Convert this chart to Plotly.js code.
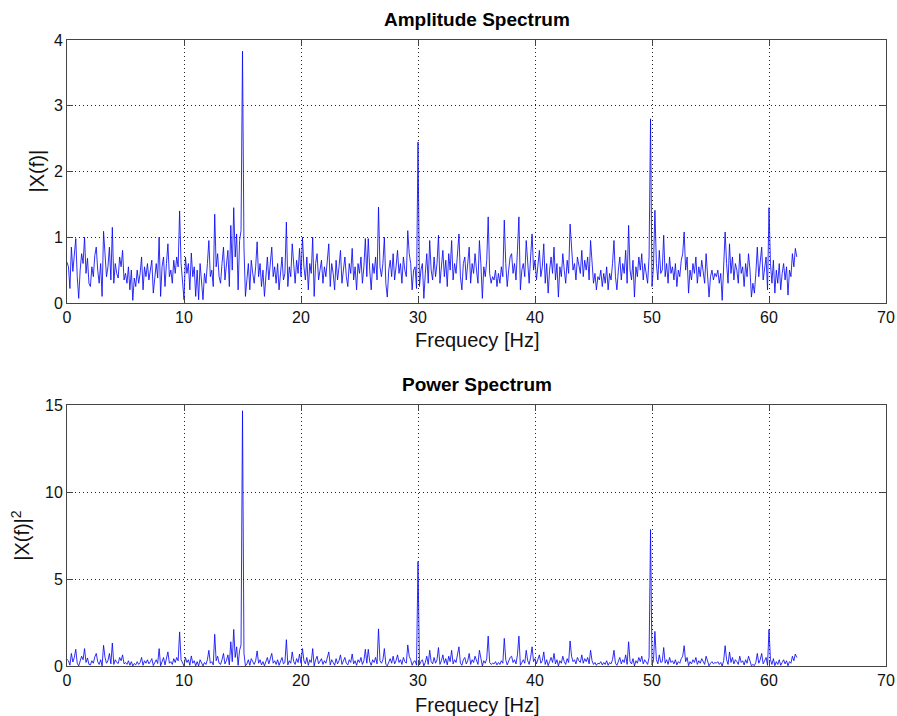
<!DOCTYPE html>
<html>
<head>
<meta charset="utf-8">
<script src="https://cdn.plot.ly/plotly-3.0.1.min.js"></script>
<style>html,body{margin:0;padding:0;background:#fff;}#chart{width:897px;height:716px;}</style>
</head>
<body>
<div id="chart"></div>
<script>
// Frequency resolution of the spectrum (Hz per bin) and number of bins
const binWidth = 0.125;

// |X(f)| values, one per 0.125 Hz bin, 0 .. 62.375 Hz
const amplitude = [
  // 0 Hz
  0.62, 0.55, 0.22, 0.85, 0.48, 0.70, 0.98, 0.40,
  // 1 Hz
  0.07, 0.50, 0.75, 0.60, 1.00, 0.45, 0.68, 0.30,
  // 2 Hz
  0.25, 0.55, 0.40, 0.72, 0.85, 0.50, 0.30, 0.60,
  // 3 Hz
  0.10, 1.09, 0.70, 0.40, 0.55, 0.85, 0.35, 1.15,
  // 4 Hz
  0.30, 0.60, 0.45, 0.38, 0.70, 0.55, 0.80, 0.35,
  // 5 Hz
  0.45, 0.30, 0.55, 0.20, 0.50, 0.04, 0.38, 0.25,
  // 6 Hz
  0.50, 0.30, 0.45, 0.70, 0.20, 0.55, 0.40, 0.60,
  // 7 Hz
  0.35, 0.50, 0.65, 0.15, 0.45, 0.60, 0.38, 1.00,
  // 8 Hz
  0.10, 0.55, 0.70, 0.25, 0.60, 0.90, 0.40, 0.50,
  // 9 Hz
  0.30, 0.65, 0.45, 0.70, 0.55, 1.40, 0.60, 0.35,
  // 10 Hz
  0.05, 0.70, 0.45, 0.60, 0.20, 0.76, 0.40, 0.55,
  // 11 Hz
  0.10, 0.50, 0.05, 0.60, 0.35, 0.05, 0.45, 0.30,
  // 12 Hz
  0.60, 0.95, 0.40, 0.50, 0.25, 1.35, 0.55, 0.75,
  // 13 Hz
  0.40, 0.30, 0.60, 0.85, 0.35, 0.55, 0.80, 0.25,
  // 14 Hz
  1.18, 0.50, 1.45, 0.70, 1.05, 0.20, 0.95, 1.10,
  // 15 Hz
  3.83, 0.85, 0.10, 0.35, 0.60, 0.20, 0.65, 0.45,
  // 16 Hz
  0.30, 0.55, 0.93, 0.40, 0.60, 0.25, 0.50, 0.10,
  // 17 Hz
  0.45, 0.70, 0.35, 0.60, 0.85, 0.40, 0.55, 0.30,
  // 18 Hz
  0.60, 0.20, 0.50, 0.70, 0.35, 0.45, 1.23, 0.25,
  // 19 Hz
  0.55, 0.40, 0.90, 0.50, 0.30, 0.65, 0.45, 0.83,
  // 20 Hz
  0.40, 1.00, 0.55, 0.35, 0.70, 0.20, 0.60, 0.45,
  // 21 Hz
  1.00, 0.10, 0.60, 0.75, 0.35, 0.50, 0.65, 0.30,
  // 22 Hz
  0.55, 0.40, 0.70, 0.90, 0.25, 0.60, 0.45, 0.20,
  // 23 Hz
  0.65, 0.35, 0.55, 0.80, 0.30, 0.50, 0.70, 0.40,
  // 24 Hz
  0.25, 0.60, 0.45, 0.83, 0.35, 0.55, 0.20, 0.60,
  // 25 Hz
  0.45, 0.70, 0.30, 0.55, 0.98, 0.40, 0.98, 0.50,
  // 26 Hz
  0.20, 0.60, 0.45, 0.70, 0.35, 1.46, 0.55, 0.40,
  // 27 Hz
  0.60, 1.00, 0.30, 0.09, 0.50, 0.65, 0.40, 0.75,
  // 28 Hz
  0.35, 0.55, 0.80, 0.45, 0.60, 0.30, 0.70, 0.50,
  // 29 Hz
  0.40, 1.10, 0.75, 0.60, 0.20, 0.50, 0.55, 0.22,
  // 30 Hz
  2.45, 0.25, 0.50, 0.60, 0.07, 0.45, 0.75, 0.30,
  // 31 Hz
  0.95, 0.50, 0.35, 0.70, 0.40, 0.60, 1.03, 0.30,
  // 32 Hz
  0.55, 0.80, 0.40, 0.65, 0.25, 0.75, 0.50, 0.95,
  // 33 Hz
  0.35, 0.60, 0.45, 0.80, 1.05, 0.40, 0.20, 0.60,
  // 34 Hz
  0.70, 0.35, 0.55, 0.85, 0.30, 0.60, 0.45, 0.75,
  // 35 Hz
  0.50, 0.30, 0.95, 0.60, 0.07, 0.55, 0.40, 0.65,
  // 36 Hz
  1.31, 0.45, 0.30, 0.40, 0.35, 0.50, 0.25, 0.45,
  // 37 Hz
  0.30, 0.55, 0.40, 1.26, 0.60, 0.25, 0.50, 0.70,
  // 38 Hz
  0.75, 0.45, 0.60, 0.35, 0.80, 1.31, 0.20, 0.50,
  // 39 Hz
  0.60, 0.40, 0.95, 0.55, 0.30, 0.70, 1.05, 0.50,
  // 40 Hz
  0.65, 0.35, 0.60, 0.80, 0.40, 0.55, 0.90, 0.30,
  // 41 Hz
  0.60, 0.15, 0.50, 0.70, 0.45, 0.85, 0.35, 0.60,
  // 42 Hz
  0.09, 0.55, 0.40, 0.75, 0.50, 0.30, 0.65, 0.45,
  // 43 Hz
  1.20, 0.75, 0.50, 0.60, 0.35, 0.70, 0.55, 0.45,
  // 44 Hz
  0.80, 0.40, 0.65, 0.50, 0.70, 0.35, 0.95, 0.55,
  // 45 Hz
  0.30, 0.45, 0.20, 0.40, 0.35, 0.50, 0.25, 0.45,
  // 46 Hz
  0.30, 0.55, 0.20, 0.45, 0.35, 0.60, 0.95, 0.40,
  // 47 Hz
  0.20, 0.50, 0.70, 0.35, 0.60, 0.45, 0.80, 0.30,
  // 48 Hz
  1.18, 0.50, 0.35, 0.65, 0.09, 0.55, 0.40, 0.70,
  // 49 Hz
  0.50, 0.75, 0.35, 0.60, 0.45, 0.30, 0.70, 2.80,
  // 50 Hz
  0.25, 0.55, 1.41, 0.60, 0.35, 0.80, 0.45, 0.50,
  // 51 Hz
  1.03, 0.40, 0.60, 0.30, 0.70, 0.45, 0.55, 0.35,
  // 52 Hz
  0.60, 0.25, 0.50, 0.40, 0.65, 0.75, 1.08, 0.50,
  // 53 Hz
  0.70, 0.15, 0.50, 0.35, 0.60, 0.45, 0.70, 0.30,
  // 54 Hz
  0.55, 0.40, 0.65, 0.50, 0.30, 0.75, 0.45, 0.09,
  // 55 Hz
  0.40, 0.50, 0.35, 0.45, 0.40, 0.50, 0.30, 0.45,
  // 56 Hz
  0.04, 0.55, 1.08, 0.60, 0.30, 0.90, 0.45, 0.70,
  // 57 Hz
  0.35, 0.60, 0.50, 0.30, 0.75, 0.45, 0.55, 0.25,
  // 58 Hz
  0.60, 0.40, 0.75, 0.50, 0.09, 0.30, 0.15, 0.45,
  // 59 Hz
  0.85, 0.40, 0.60, 0.85, 0.35, 0.55, 0.70, 0.20,
  // 60 Hz
  1.45, 0.60, 0.30, 0.65, 0.15, 0.50, 0.30, 0.60,
  // 61 Hz
  0.20, 0.45, 0.60, 0.35, 0.55, 0.12, 0.50, 0.40,
  // 62 Hz
  0.75, 0.55, 0.83, 0.70
];

// Frequency of each bin
const frequency = amplitude.map((_, i) => i * binWidth);
// Power spectrum is |X(f)|^2 of the amplitude values
const power = amplitude.map(v => v * v);

// Tick labels
const xTicks = [0, 10, 20, 30, 40, 50, 60, 70];
const ampTicks = [0, 1, 2, 3, 4];
const powTicks = [0, 5, 10, 15];

const FONT = 'Liberation Sans, Arial, Helvetica, sans-serif';
const lineStyle = {color: 'rgb(10,10,245)', width: 0.85};

const traces = [
  {x: frequency, y: amplitude, type: 'scatter', mode: 'lines', line: lineStyle, xaxis: 'x', yaxis: 'y', hoverinfo: 'x+y'},
  {x: frequency, y: power, type: 'scatter', mode: 'lines', line: lineStyle, xaxis: 'x2', yaxis: 'y2', hoverinfo: 'x+y'}
];

function xAxis(anchor) {
  return {
    anchor: anchor, domain: [0, 1], range: [0, 70], tickvals: xTicks, ticktext: xTicks.map(String),
    showgrid: true, gridcolor: '#222', griddash: '1px,3px', gridwidth: 1,
    zeroline: false, showline: true, linecolor: '#444', linewidth: 1, mirror: 'ticks',
    ticks: 'inside', ticklen: 6, tickcolor: '#444',
    tickfont: {family: FONT, size: 16, color: '#111'}
  };
}
function yAxis(anchor, domain, range, ticks) {
  return {
    anchor: anchor, domain: domain, range: range, tickvals: ticks, ticktext: ticks.map(String),
    showgrid: true, gridcolor: '#222', griddash: '1px,3px', gridwidth: 1,
    zeroline: false, showline: true, linecolor: '#444', linewidth: 1, mirror: 'ticks',
    ticks: 'inside', ticklen: 6, tickcolor: '#444',
    tickfont: {family: FONT, size: 16, color: '#111'}
  };
}

const layout = {
  width: 897, height: 716,
  paper_bgcolor: '#fff', plot_bgcolor: '#fff',
  margin: {l: 67, r: 11, t: 40, b: 50},
  showlegend: false,
  font: {family: FONT, color: '#111'},
  xaxis: xAxis('y'),
  yaxis: yAxis('x', [0.5799, 1], [0, 4], ampTicks),
  xaxis2: xAxis('y2'),
  yaxis2: yAxis('x2', [0, 0.4169], [0, 15], powTicks),
  annotations: [
    {text: '<b>Amplitude Spectrum</b>', xref: 'paper', yref: 'paper', x: 0.5, y: 1.032, showarrow: false, xanchor: 'center', yanchor: 'middle', font: {family: FONT, size: 19, color: '#000'}},
    {text: '<b>Power Spectrum</b>', xref: 'paper', yref: 'paper', x: 0.5, y: 0.4489, showarrow: false, xanchor: 'center', yanchor: 'middle', font: {family: FONT, size: 19, color: '#000'}},
    {text: 'Frequecy [Hz]', xref: 'paper', yref: 'paper', x: 0.5, y: 0.5208, showarrow: false, xanchor: 'center', yanchor: 'middle', font: {family: FONT, size: 20, color: '#111'}},
    {text: 'Frequecy [Hz]', xref: 'paper', yref: 'paper', x: 0.5, y: -0.0623, showarrow: false, xanchor: 'center', yanchor: 'middle', font: {family: FONT, size: 20, color: '#111'}},
    {text: '|X(f)|', xref: 'paper', yref: 'paper', x: -0.0366, y: 0.79, showarrow: false, xanchor: 'center', yanchor: 'middle', textangle: -90, font: {family: FONT, size: 20, color: '#111'}},
    {text: '|X(f)|<sup>2</sup>', xref: 'paper', yref: 'paper', x: -0.057, y: 0.2085, showarrow: false, xanchor: 'center', yanchor: 'middle', textangle: -90, font: {family: FONT, size: 20, color: '#111'}}
  ]
};

Plotly.newPlot('chart', traces, layout, {displayModeBar: false, staticPlot: true});
</script>
</body>
</html>
